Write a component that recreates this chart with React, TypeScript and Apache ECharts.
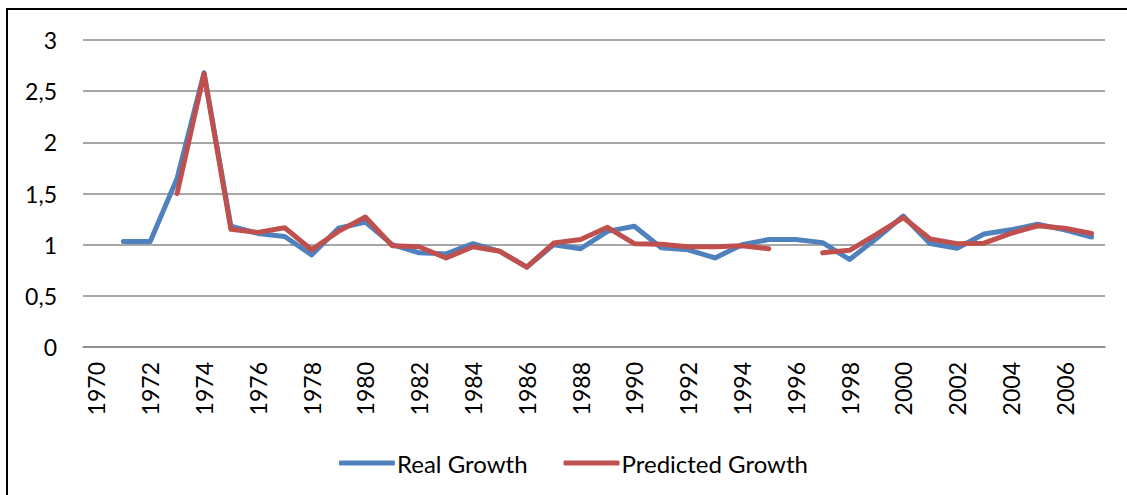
import React, { useEffect, useRef } from "react";
import * as echarts from "echarts";

const years: string[] = [];
for (let y = 1970; y <= 2007; y++) years.push(String(y));

const realGrowth: (number | null)[] = [
  null, 1.03, 1.03, 1.65, 2.68, 1.18, 1.11, 1.08, 0.9, 1.16,
  1.22, 1.0, 0.92, 0.91, 1.01, 0.935, 0.78, 1.0, 0.96, 1.13,
  1.18, 0.97, 0.95, 0.87, 1.0, 1.05, 1.05, 1.02, 0.855, 1.06,
  1.28, 1.01, 0.965, 1.105, 1.145, 1.2, 1.145, 1.075,
];

const predictedGrowth: (number | null)[] = [
  null, null, null, 1.5, 2.67, 1.15, 1.12, 1.165, 0.95, 1.13,
  1.27, 0.99, 0.98, 0.87, 0.98, 0.935, 0.78, 1.016, 1.05, 1.17,
  1.01, 1.005, 0.98, 0.98, 0.99, 0.96, null, 0.92, 0.945, 1.1,
  1.265, 1.055, 1.01, 1.015, 1.11, 1.185, 1.16, 1.11,
];

const yTicks = { min: 0, max: 3, interval: 0.5 };

export default function App() {
  const ref = useRef<HTMLDivElement>(null);
  useEffect(() => {
    if (!ref.current) return;
    const chart = echarts.init(ref.current, null, { renderer: "svg" });
    const font = "Lato";
    chart.setOption({
      animation: false,
      backgroundColor: "#ffffff",
      textStyle: { fontFamily: font },
      grid: { left: 83, right: 22, top: 40, bottom: 148, containLabel: false },
      graphic: [
        {
          type: "rect",
          shape: { x: 7, y: 9, width: 1140, height: 510 },
          style: { fill: "none", stroke: "#000000", lineWidth: 2 },
          silent: true,
        },
      ],
      legend: {
        left: 334,
        top: 446,
        itemWidth: 56,
        itemHeight: 5,
        itemGap: 36,
        icon: "roundRect",
        textStyle: { fontFamily: font, fontSize: 24, color: "#000", padding: [0, 0, 0, -3] },
        data: ["Real Growth", "Predicted Growth"],
      },
      xAxis: {
        type: "category",
        data: years,
        boundaryGap: true,
        axisLine: { show: true, lineStyle: { color: "#8a8a8a", width: 1.5 } },
        axisTick: { show: false },
        axisLabel: {
          rotate: 90,
          interval: 1,
          margin: 15,
          fontFamily: font,
          fontSize: 23,
          color: "#000",
        },
        splitLine: { show: false },
      },
      yAxis: {
        type: "value",
        min: yTicks.min,
        max: yTicks.max,
        interval: yTicks.interval,
        axisLine: { show: false },
        axisTick: { show: false },
        axisLabel: {
          margin: 26,
          fontFamily: font,
          fontSize: 23,
          color: "#000",
          formatter: (v: number) => String(v).replace(".", ","),
        },
        splitLine: { show: true, lineStyle: { color: "#8a8a8a", width: 1.5 } },
      },
      series: [
        {
          name: "Real Growth",
          type: "line",
          data: realGrowth,
          showSymbol: false,
          symbol: "none",
          connectNulls: false,
          itemStyle: { color: "#4F81BD" },
          lineStyle: { color: "#4F81BD", width: 5, cap: "round", join: "round" },
        },
        {
          name: "Predicted Growth",
          type: "line",
          data: predictedGrowth,
          showSymbol: false,
          symbol: "none",
          connectNulls: false,
          itemStyle: { color: "#C0504D" },
          lineStyle: { color: "#C0504D", width: 5, cap: "round", join: "round" },
        },
      ],
    });
    return () => chart.dispose();
  }, []);
  return (
    <div
      ref={ref}
      style={{ position: "absolute", left: 0, top: 0, width: 1127, height: 495 }}
    />
  );
}
